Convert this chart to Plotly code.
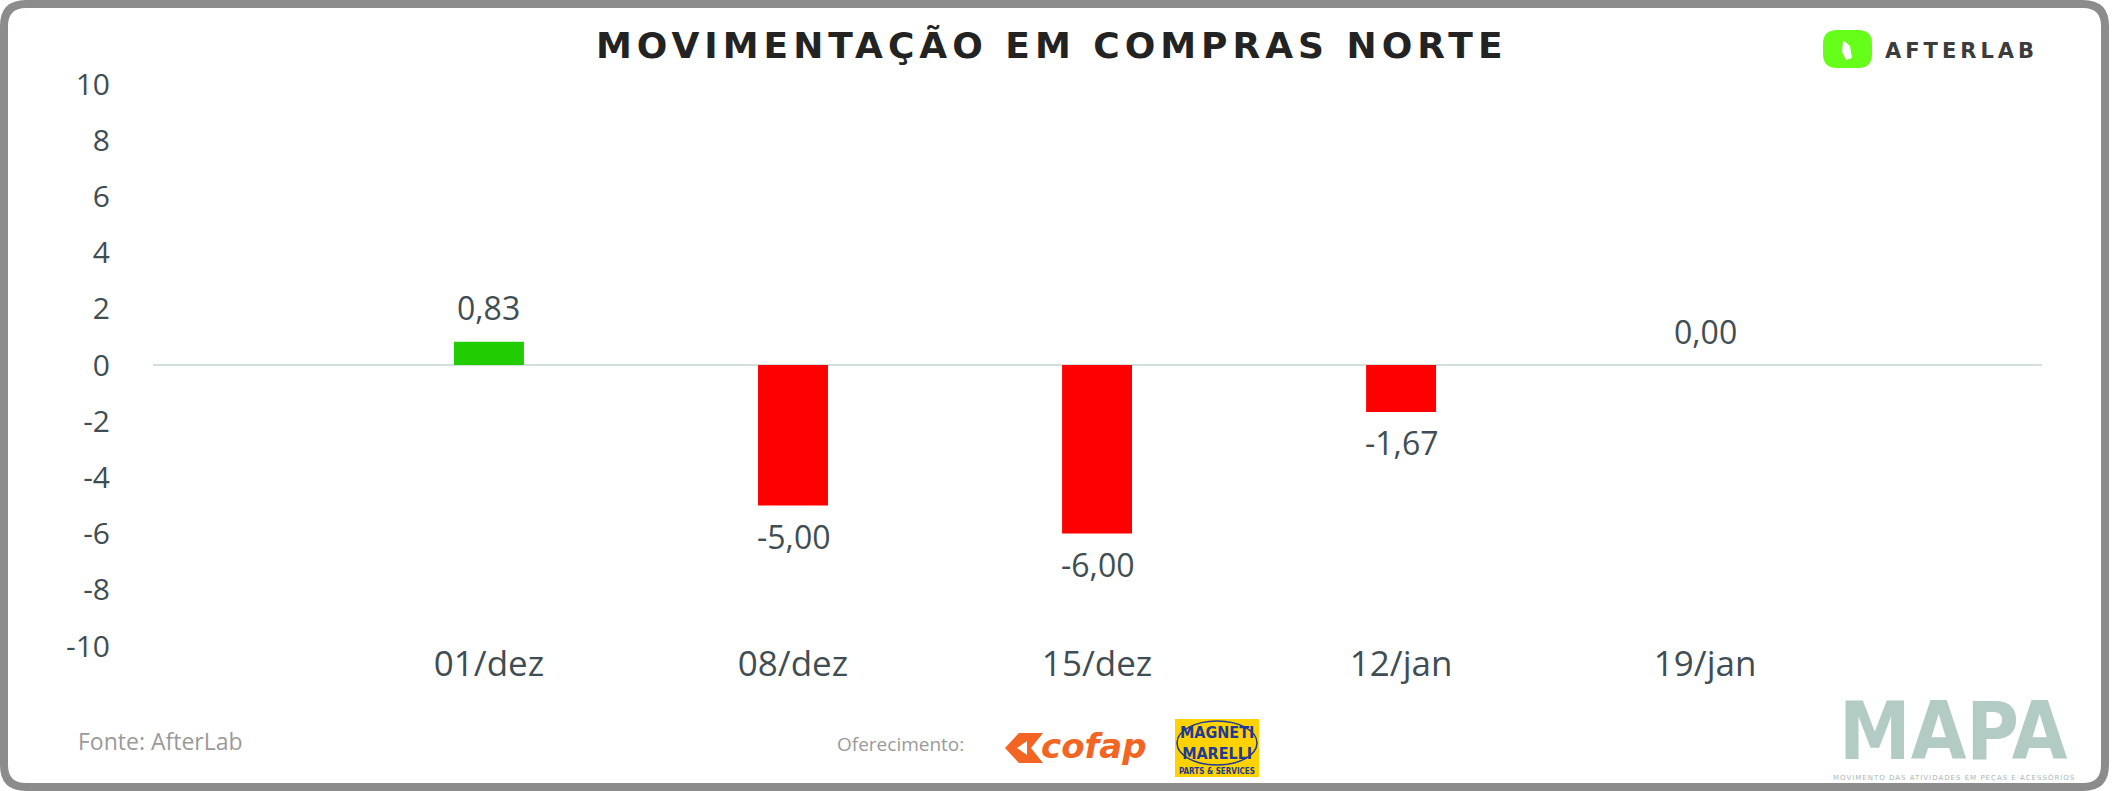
import plotly.graph_objects as go

# dados do grafico
semanas = ["01/dez", "08/dez", "15/dez", "12/jan", "19/jan"]
movimentacao = [0.83, -5.00, -6.00, -1.67, 0.00]
y_ticks = [-10, -8, -6, -4, -2, 0, 2, 4, 6, 8, 10]

titulo = "MOVIMENTAÇÃO EM COMPRAS NORTE"
fonte_txt = "Fonte: AfterLab"
oferecimento_txt = "Oferecimento:"

# area do grafico em pixels
W_FIG, H_FIG = 2116, 791
L, R, T, B = 153, 2042, 84, 646
PW, PH = R - L, B - T


def px(x):
    return (x - L) / PW


def py(y):
    return (B - y) / PH


def rounded_rect(x0, y0, x1, y1, r):
    rx, ry = r / PW, r / PH
    a0, a1 = px(x0), px(x1)
    b0, b1 = py(y0), py(y1)  # b0 topo, b1 base
    return (f"M{a0 + rx},{b0} L{a1 - rx},{b0} Q{a1},{b0} {a1},{b0 - ry} "
            f"L{a1},{b1 + ry} Q{a1},{b1} {a1 - rx},{b1} L{a0 + rx},{b1} "
            f"Q{a0},{b1} {a0},{b1 + ry} L{a0},{b0 - ry} Q{a0},{b0} {a0 + rx},{b0} Z")


def poly(points):
    return "M" + " L".join(f"{px(x)},{py(y)}" for x, y in points) + " Z"


cores = ["#21CC00" if v > 0 else "#FF0000" for v in movimentacao]
txt_cor = "#3F4E54"
fonte = "Open Sans"
narrow = "Liberation Sans Narrow, DejaVu Sans Condensed"

fig = go.Figure()
fig.add_trace(go.Bar(x=semanas, y=movimentacao, marker=dict(color=cores, line=dict(width=0)),
                     width=0.23, hoverinfo="x+y"))

# rotulos de dados
for s, v in zip(semanas, movimentacao):
    fig.add_annotation(x=s, y=v, text=f"{v:.2f}".replace(".", ","), showarrow=False,
                       yshift=34 if v >= 0 else -31, xref="x", yref="y",
                       font=dict(family=fonte, size=32, color=txt_cor))

shapes = [
    # moldura
    dict(type="path", path=rounded_rect(4, 4, 2105, 787, 22), xref="paper", yref="paper",
         line=dict(color="#8C8C8C", width=8), layer="above"),
    # logo afterlab
    dict(type="path", path=rounded_rect(1823, 30, 1872, 68, 14), xref="paper", yref="paper",
         fillcolor="#66FF1A", line=dict(width=0)),
    dict(type="path", path=poly([(1843, 40), (1850, 46), (1852, 58), (1846, 60), (1842, 52)]),
         xref="paper", yref="paper", fillcolor="white", line=dict(width=0)),
    # icone cofap
    dict(type="path", path=poly([(1005, 748), (1019, 733), (1043, 733), (1031, 748), (1043, 763), (1019, 763)]),
         xref="paper", yref="paper", fillcolor="#F26522", line=dict(width=0)),
    dict(type="path", path=poly([(1017, 748), (1027, 741), (1027, 755)]),
         xref="paper", yref="paper", fillcolor="white", line=dict(width=0)),
    # caixa magneti marelli
    dict(type="rect", x0=px(1175), x1=px(1259), y0=py(777), y1=py(719), xref="paper", yref="paper",
         fillcolor="#FFD200", line=dict(width=0)),
    dict(type="circle", x0=px(1177), x1=px(1257), y0=py(765), y1=py(721), xref="paper", yref="paper",
         line=dict(color="#1E3A96", width=1.5)),
]

annots = [
    dict(text=f'<b><span style="letter-spacing:5px">{titulo}</span></b>', x=px(1052), y=py(45),
         font=dict(family="DejaVu Sans", size=36, color="#232323")),
    dict(text='<b><span style="letter-spacing:4px">AFTERLAB</span></b>', x=px(1961), y=py(51),
         font=dict(family="DejaVu Sans", size=21, color="#3C3C3C")),
    dict(text=fonte_txt, x=px(160), y=py(741), font=dict(family=fonte, size=23, color="#9A9A9A")),
    dict(text=oferecimento_txt, x=px(900), y=py(744), font=dict(family=fonte, size=19, color="#9A9A9A")),
    dict(text="<b><i>cofap</i></b>", x=px(1094), y=py(746),
         font=dict(family="DejaVu Sans", size=34, color="#F26522")),
    dict(text="<b>MAGNETI<br>MARELLI</b>", x=px(1217), y=py(743),
         font=dict(family=narrow, size=16, color="#1E3A96")),
    dict(text="<b>PARTS & SERVICES</b>", x=px(1217), y=py(771),
         font=dict(family="DejaVu Sans Condensed", size=8, color="#1E3A96")),
    dict(text="<b>MAPA</b>", x=px(1953), y=py(731),
         font=dict(family=narrow, size=80, color="#B3CBC5")),
    dict(text='<span style="letter-spacing:1px">MOVIMENTO DAS ATIVIDADES EM PEÇAS E ACESSÓRIOS</span>',
         x=px(1954), y=py(777), font=dict(family="DejaVu Sans", size=7, color="#A9B8B4")),
]
for a in annots:
    a.update(xref="paper", yref="paper", showarrow=False, xanchor="center", yanchor="middle")
    fig.add_annotation(**a)

fig.update_layout(
    width=W_FIG, height=H_FIG, autosize=False,
    margin=dict(l=L, r=W_FIG - R, t=T, b=H_FIG - B),
    paper_bgcolor="white", plot_bgcolor="white",
    showlegend=False,
    shapes=shapes,
    font=dict(family=fonte, color=txt_cor),
)
fig.update_xaxes(type="category", range=[-1.105, 5.108], showgrid=False, showline=False,
                 zeroline=False, ticks="", ticklabelstandoff=-6,
                 tickfont=dict(family=fonte, size=35, color=txt_cor))
fig.update_yaxes(range=[-10, 10], tickvals=y_ticks, ticktext=[str(t) for t in y_ticks],
                 showgrid=False, showline=False, zeroline=True, zerolinecolor="#D3DFDB",
                 zerolinewidth=2, ticks="outside", ticklen=36, tickcolor="rgba(0,0,0,0)",
                 tickfont=dict(family=fonte, size=30, color=txt_cor))

# tira a margem padrao do body para o grafico ocupar a janela inteira
fig.write_html("out.html", config={"displayModeBar": False},
               post_script="document.body.style.margin='0px';")
